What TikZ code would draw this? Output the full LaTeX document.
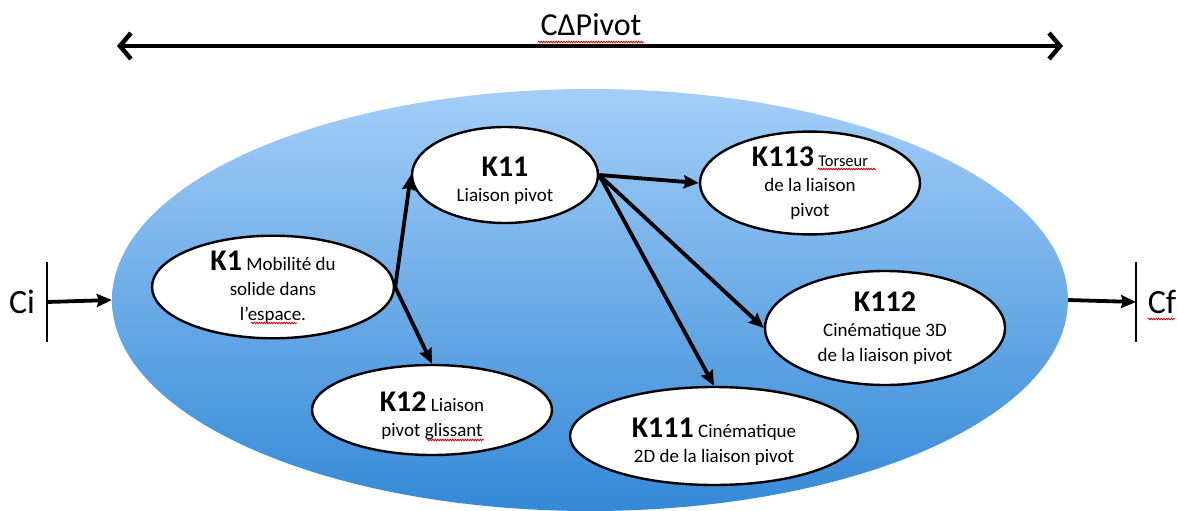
\documentclass[tikz,border=0pt]{standalone}
\usepackage{fontspec}
\setmainfont{Carlito}
\usetikzlibrary{arrows.meta,shapes.geometric,decorations.pathmorphing}
\definecolor{bluetop}{HTML}{A4CEF8}
\definecolor{bluebot}{HTML}{3489D6}
\newcommand\Kbold[1]{{\fontsize{30}{25}\selectfont\bfseries #1}}
\newcommand\lowstrut{\rule{0pt}{32pt}}
\begin{document}
\begin{tikzpicture}[x=1pt,y=-1pt,
  kn/.style={ellipse, draw=black, line width=2.4pt, fill=white, inner sep=0pt, align=center,
    font=\fontsize{19}{25}\selectfont},
  link/.style={line width=3.8pt, -{Stealth[length=15pt,width=13pt,inset=2pt]}},
  bar/.style={line width=2.8pt},
  wavy/.style={draw=red!85!black, line width=0.8pt, decorate,
    decoration={snake, amplitude=0.8pt, segment length=2.5pt}}]
\useasboundingbox (0,0) rectangle (1178,511);
\clip (0,0) rectangle (1178,511);
% big ellipse
\node[ellipse, minimum width=956pt, minimum height=422pt, top color=bluetop, bottom color=bluebot, draw=none] (C) at (590,300) {};
% top arrow
\coordinate (L) at (117,46);
\coordinate (R) at (1063,46);
\draw[line width=4.5pt, {Straight Barb[length=11pt,width=26pt]}-{Straight Barb[length=11pt,width=26pt]}] (L) -- (R);
\node[font=\fontsize{32}{32}\selectfont, anchor=base, inner sep=0pt] (title) at (591,36) {CΔPivot};
% Ci / Cf
\node[font=\fontsize{34}{34}\selectfont, anchor=base, inner sep=0pt] (ci) at (22,313) {Ci};
\node[font=\fontsize{34}{34}\selectfont, anchor=base, inner sep=0pt] (cf) at (1162,313) {Cf};
\coordinate (cit) at (47,262); \coordinate (cib) at (47,342); \coordinate (cio) at (47,302);
\coordinate (cft) at (1136,262); \coordinate (cfb) at (1136,342); \coordinate (cfi) at (1136,302);
\draw[bar] (cit) -- (cib);
\draw[bar] (cft) -- (cfb);
\draw[link] (cio) -- (C.west);
\draw[link] (C.east) -- (cfi);
% nodes
\node[kn, minimum width=242pt, minimum height=100pt] (K1) at (273,287) {\Kbold{K1} Mobilité du\\solide dans\\l'espace.};
\node[kn, minimum width=186pt, minimum height=96pt] (K11) at (505,175) {\lowstrut\Kbold{K11}\\Liaison pivot};
\node[kn, minimum width=220pt, minimum height=90pt] (K113) at (810,183) {\Kbold{K113} {\fontsize{16.5}{25}\selectfont Torseur}\\de la liaison\\pivot};
\node[kn, minimum width=240pt, minimum height=114pt] (K112) at (885,328) {\Kbold{K112}\\Cinématique 3D\\de la liaison pivot};
\node[kn, minimum width=240pt, minimum height=90pt] (K12) at (432,410) {\lowstrut\Kbold{K12} Liaison\\pivot glissant};
\node[kn, minimum width=288pt, minimum height=98pt] (K111) at (714,436) {\lowstrut\Kbold{K111} Cinématique\\2D de la liaison pivot};
% connectors
\draw[link] (K1.east) -- (K11.west);
\draw[link] (K1.east) -- (K12.north);
\draw[link] (K11.east) -- (K113.west);
\draw[link] (K11.east) -- (K112.west);
\draw[link] (K11.east) -- (K111.north);
% spell-check underlines
\coordinate (w1a) at (538,42); \coordinate (w1b) at (644,42);
\coordinate (w2a) at (251,323); \coordinate (w2b) at (297,323);
\coordinate (w3a) at (818,169); \coordinate (w3b) at (876,169);
\coordinate (w4a) at (427,440); \coordinate (w4b) at (484,440);
\coordinate (w5a) at (1148,319); \coordinate (w5b) at (1175,319);
\draw[wavy] (w1a) -- (w1b);
\draw[wavy] (w2a) -- (w2b);
\draw[wavy] (w3a) -- (w3b);
\draw[wavy] (w4a) -- (w4b);
\draw[wavy] (w5a) -- (w5b);
\end{tikzpicture}
\end{document}
